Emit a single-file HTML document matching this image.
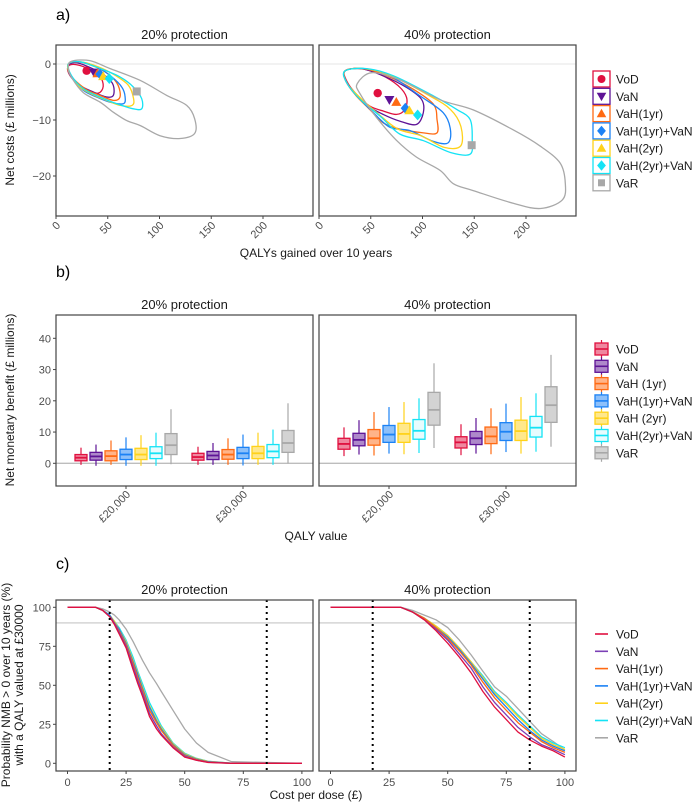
<!DOCTYPE html>
<html><head><meta charset="utf-8"><style>
body{margin:0;background:#fff;}
svg{display:block;font-family:"Liberation Sans",Arial,sans-serif;}
</style></head><body>
<svg id="fig" width="698" height="802" viewBox="0 0 698 802"></svg>
<script>
// ---------- DATA ----------
const seriesNames = ["VoD","VaN","VaH(1yr)","VaH(1yr)+VaN","VaH(2yr)","VaH(2yr)+VaN","VaR"];
const boxLegendNames = ["VoD","VaN","VaH (1yr)","VaH(1yr)+VaN","VaH (2yr)","VaH(2yr)+VaN","VaR"];
const panels = ["20% protection","40% protection"];
// panel a: mean points [QALY, cost]
const meanQ20 = [29.6,36.7,40,42.5,45.6,51.5,78];
const meanC20 = [-1.2,-1.5,-1.7,-1.8,-2.2,-2.6,-4.9];
const meanQ40 = [56.7,68,74.7,83.4,87.3,95.3,147.5];
const meanC40 = [-5.2,-6.4,-6.8,-7.9,-8.3,-9.1,-14.5];
// contours 20% : [q,c] pairs
const cont20 = [
 [[11.9,-0.4],[19.3,-0.1],[33,-1],[42.5,-2.2],[45.6,-4],[40.8,-5.2],[29.6,-4.6],[18.4,-3.1],[12.2,-1.6]],
 [[11.9,-0.2],[20.5,0.2],[36,-0.9],[49,-2.3],[55.4,-3.8],[55.4,-5.6],[49,-5.9],[36,-5],[23,-3.8],[13.5,-1.8]],
 [[11.9,0],[21.5,0.4],[38,-0.5],[52,-2],[60,-3.8],[61.8,-5.9],[55.4,-6.5],[42.5,-5.6],[28,-4.4],[14,-2]],
 [[11.9,0],[22.5,0.4],[39.5,-0.5],[53.8,-2.3],[63.5,-4.1],[66.8,-5.9],[65,-7.1],[52,-6.8],[39.3,-5.9],[26.4,-4.7],[14,-2.1]],
 [[11.9,0],[23.2,0.4],[40.9,-0.5],[57,-2],[70,-3.8],[75,-6.2],[73.4,-7.4],[62,-7.4],[49,-6.5],[36,-5.5],[23,-4.1],[13.5,-1.8]],
 [[11.9,0],[23.2,0.4],[42.5,-0.8],[61.8,-2.3],[74.7,-4.1],[82.8,-6.2],[82.8,-8],[74.7,-8],[58.7,-7.1],[42.5,-5.9],[26.4,-4.4],[15.1,-2.1]],
 [[15.1,0.5],[32.8,0.6],[52,-0.8],[81,-2.9],[107,-5.6],[126.3,-7.4],[134,-9.8],[134,-12.4],[120,-13.3],[100.5,-12.8],[81.5,-11],[68.3,-10.1],[55.4,-8.6],[42.5,-6.8],[26.4,-5.1],[15.1,-2.4],[12,-0.6]]
];
const cont40 = [
 [[25,-1.25],[39.5,-0.83],[58.9,-1.85],[76.6,-3.9],[84.6,-6],[83,-8.1],[75,-9],[62,-8.4],[49,-7.5],[36,-5.4],[27,-3.1]],
 [[25,-1.25],[41,-0.83],[62,-2.1],[84.6,-4.2],[99,-6.3],[100.8,-8.7],[94,-10.8],[78,-10.2],[62,-9],[47.5,-7.5],[34.6,-5.1],[26,-3.1]],
 [[25,-1.25],[42.5,-0.83],[65.4,-2.1],[91,-4.5],[110.6,-7.2],[114,-9.9],[114,-12.3],[101,-12.3],[78,-11.6],[62,-10.5],[49,-8.1],[36,-5.7],[27,-3.4]],
 [[25,-1.25],[44,-0.83],[68.6,-2.1],[97.6,-5.7],[120,-8.7],[127,-11.7],[124.5,-14.1],[110,-13.8],[88,-11.9],[68.6,-11.3],[52.6,-8.7],[37,-5.7],[27,-3.4]],
 [[25,-1.25],[44,-0.83],[70,-2.1],[107,-5.7],[127,-8.1],[137,-11.1],[137,-14.6],[121,-14.9],[98.5,-12.8],[76,-11.6],[56,-8.7],[38,-5.7],[27,-3.4]],
 [[25,-1.25],[46,-0.83],[72,-2.1],[110.6,-5.7],[133,-8.1],[146,-9.9],[148,-13.4],[146,-16.1],[127,-15.8],[101,-13.7],[78,-12.5],[59,-9.3],[39.6,-6.3],[27,-3.4]],
 [[37,-3.5],[50.9,-1.55],[78.3,-2.85],[117,-6.4],[149,-8.2],[188,-11.8],[214,-14.7],[233,-17.7],[238,-21.3],[235,-24.3],[214,-25.8],[188,-24.9],[149,-22.6],[130,-21.4],[117,-19],[94,-16.6],[74.7,-13.6],[55.4,-9.5],[39.6,-5.3]]
];
// panel b: box stats, order [panel][qaly value][series]
const qalyValues = ["£20,000","£30,000"];
const boxLo   = [[[-0.5,-0.8,-0.5,-0.8,-0.8,-0.8,-0.3],[-0.5,-0.5,-0.5,-0.7,-0.5,-0.5,0]],[[2.3,2.8,2.5,3.1,2.9,3.3,4.9],[2.6,3.1,2.9,3.6,3.1,3.7,5.3]]];
const boxQ1   = [[[0.8,1,0.8,1.2,1.2,1.5,2.8],[1,1.2,1.3,1.5,1.5,1.8,3.5]],[[4.5,5.6,5.8,6.7,6.7,7.7,12.2],[4.9,6,6.3,7.3,7.3,8.4,13.1]]];
const boxMed  = [[[1.8,2.2,2.3,2.8,2.8,3.2,5.8],[2,2.5,2.8,3.2,3.2,3.8,6.5]],[[6.2,7.5,8,9.2,9.4,10.4,17.1],[6.7,8,8.6,10.1,10.3,11.4,18.6]]];
const boxQ3   = [[[2.8,3.5,4,4.5,4.8,5.3,9.5],[3.2,3.8,4.4,5.1,5.4,6,10.5]],[[8,9.6,10.8,12.1,12.8,14,22.7],[8.5,10.2,11.6,13,13.8,15,24.5]]];
const boxHi   = [[[5,6,7.3,8.3,9,9.8,17.3],[5.3,6.5,8,9.2,9.8,10.8,19.2]],[[11.5,13.8,16.4,18,19.6,20.8,32],[12.5,14.5,17.6,19.1,21.2,22.4,34.7]]];
// panel c: acceptability curves
const costX20 = [0,12,15,18,20,22,25,28,30,32,35,38,40,45,50,55,60,70,100];
const prob20 = [
 [100,100,98,94,89,83,74,60,51,43,30,22,18,10,4,2,0.5,0,0],
 [100,100,98,94,90,84,75,62,53,45,32,24,19,10.5,4.5,2,0.7,0,0],
 [100,100,98,94,90,85,76,64,55,47,34,26,21,11.5,5,2.4,0.9,0,0],
 [100,100,98,95,90,86,77,65,57,48,36,27,22,12,5.5,2.7,1,0.1,0],
 [100,100,98,95,91,86,78,66,58,49,37,28,23,12.5,6,3,1.2,0.1,0],
 [100,100,98,95,91,87,79,68,59,51,39,30,24,13,6.5,3.2,1.3,0.1,0],
 [100,100,99,97,95,92,86,78,72,66,58,51,46,34,22,13,7,1,0]
];
const costX40 = [0,25,30,35,40,45,50,55,60,65,70,75,80,85,90,95,100];
const prob40 = [
 [100,100,100,97,92,85,77,68,58,46,36,28,20,15,11,8,4],
 [100,100,100,97,92,86,79,70,61,49,39,31,23,17,12,9,5.5],
 [100,100,100,97,93,87,80,72,63,52,42,34,26,20,14,10,7],
 [100,100,100,97,93,87,81,73,64,54,44,36,28,21,15,11,8],
 [100,100,100,97,93,88,82,74,65,55,45,38,30,23,16,12,9],
 [100,100,100,97,93,88,82,74,65,56,46,39,31,24,17,13,10],
 [100,100,100,98,95,92,87,79,69.5,59,49,43,35,27,19,14,8.5]
];
const ticksA_y = [0,-10,-20];
const ticksA_x = [0,50,100,150,200];
const ticksB_y = [0,10,20,30,40];
const ticksC_y = [0,25,50,75,100];
const ticksC_x = [0,25,50,75,100];
const vlinesC = [18,85];

// ---------- STYLE / GEOMETRY ----------
const colors = ["#E0103F","#5E1396","#FF6A13","#1C82F5","#FFD21A","#14E3F5","#A8A8A8"];
const lineColorsC = ["#E0103F","#7B40B5","#FF6A13","#1C82F5","#FFD21A","#14E3F5","#A8A8A8"];
const PX = [[56,313],[319,576]];
const svg = document.getElementById('fig');
const NS = "http://www.w3.org/2000/svg";
function mk(tag, attrs, parent){
  const e = document.createElementNS(NS, tag);
  for (const k in attrs) e.setAttribute(k, attrs[k]);
  (parent||svg).appendChild(e); return e;
}
function txt(s, x, y, size, anchor, fill, parent){
  const t = mk('text',{x:x,y:y,'font-size':size,'text-anchor':anchor||'middle',fill:fill||'#000'},parent);
  t.textContent = s; return t;
}
function smooth(pts){
  const n = pts.length; let d = "M"+pts[0][0].toFixed(1)+","+pts[0][1].toFixed(1);
  for (let i=0;i<n;i++){
    const p0=pts[(i-1+n)%n],p1=pts[i],p2=pts[(i+1)%n],p3=pts[(i+2)%n];
    const c1=[p1[0]+(p2[0]-p0[0])/6,p1[1]+(p2[1]-p0[1])/6];
    const c2=[p2[0]-(p3[0]-p1[0])/6,p2[1]-(p3[1]-p1[1])/6];
    d+="C"+c1.map(v=>v.toFixed(1)).join(",")+" "+c2.map(v=>v.toFixed(1)).join(",")+" "+p2[0].toFixed(1)+","+p2[1].toFixed(1);
  }
  return d+"Z";
}
function symbol(k, cx, cy, r, col, parent){
  let e;
  if(k===0) e=mk('circle',{cx:cx,cy:cy,r:r,fill:col},parent);
  else if(k===1) e=mk('polygon',{points:`${cx-r*1.2},${cy-r*0.9} ${cx+r*1.2},${cy-r*0.9} ${cx},${cy+r*1.2}`,fill:col},parent);
  else if(k===2||k===4) e=mk('polygon',{points:`${cx-r*1.2},${cy+r*0.9} ${cx+r*1.2},${cy+r*0.9} ${cx},${cy-r*1.2}`,fill:col},parent);
  else if(k===3||k===5) e=mk('polygon',{points:`${cx},${cy-r*1.3} ${cx+r*1.1},${cy} ${cx},${cy+r*1.3} ${cx-r*1.1},${cy}`,fill:col},parent);
  else e=mk('rect',{x:cx-r,y:cy-r,width:2*r,height:2*r,fill:col},parent);
  return e;
}
function frame(x0,x1,y0,y1,name){
  const r = mk('rect',{x:x0,y:y0,width:x1-x0,height:y1-y0,fill:'none',stroke:'#444','stroke-width':1.2});
  
  
}

// ---------- PANEL LABELS / STRIPS ----------
[["a)",56,20],["b)",56,277],["c)",56,569]].forEach(l=>{
  const t = txt(l[0], l[1], l[2], 16, 'start');
  
  
});
[39,309,594].forEach((yy,ri)=>{
  panels.forEach((p,pi)=>{
    const t = txt(p,(PX[pi][0]+PX[pi][1])/2,yy,13,'middle','#1a1a1a');
    
    
  });
});

// ---------- PANEL A ----------
const aY = v => 64 - 5.6*v;
const aX = (pi,q) => PX[pi][0] + 1.035*q;
const gA = mk('g',{});


[0,1].forEach(pi=>{
  const h = mk('line',{x1:PX[pi][0],x2:PX[pi][1],y1:aY(0),y2:aY(0),stroke:'#e6e6e6','stroke-width':1},gA);
  
  
  const cs = pi?cont40:cont20;
  cs.forEach((c,si)=>{
    const pts = c.map(p=>[aX(pi,p[0]),aY(p[1])]);
    const path = mk('path',{d:smooth(pts),fill:'none',stroke:colors[si],'stroke-width':1.3},gA);
    
    
  });
  const mq = pi?meanQ40:meanQ20, mc = pi?meanC40:meanC20;
  mq.forEach((q,si)=>{
    const s = symbol(si, aX(pi,q), aY(mc[si]), si===6?4:4.2, colors[si], gA);
    
    
  });
  frame(PX[pi][0],PX[pi][1],45,216,'panel-a-frame');
  ticksA_x.forEach(v=>{
    const x=aX(pi,v);
    mk('line',{x1:x,x2:x,y1:216,y2:219,stroke:'#444'});
    const t = mk('text',{x:x+5,y:226,'font-size':11,'text-anchor':'end',fill:'#4d4d4d',transform:`rotate(-45 ${x+5} 226)`});
    t.textContent = v;
    
    
  });
});
ticksA_y.forEach(v=>{
  mk('line',{x1:53,x2:56,y1:aY(v),y2:aY(v),stroke:'#444'});
  const t = txt(v<0?"\u2212"+(-v):String(v),51,aY(v)+4,11,'end','#4d4d4d');
  
  
});
{
  const t = txt("QALYs gained over 10 years",316,257,12,'middle','#1a1a1a');
  
  
  const y = mk('text',{x:14,y:130,'font-size':12,'text-anchor':'middle',fill:'#1a1a1a',transform:'rotate(-90 14 130)'});
  y.textContent = "Net costs (£ millions)";
  
  
}
seriesNames.forEach((n,si)=>{
  const cy = 79 + si*17.3;
  const g = mk('g',{});
  
  
  mk('rect',{x:593,y:cy-8,width:17,height:16,fill:'#fff',stroke:colors[si],'stroke-width':1.3},g);
  symbol(si,601.5,cy,si===6?3.5:4,colors[si],g);
  txt(n,616,cy+4.5,12,'start','#1a1a1a',g);
});

// ---------- PANEL B ----------
const bY = v => 463.3 - 3.125*v;
const catOff = [70,187];
const gB = mk('g',{});


[0,1].forEach(pi=>{
  const h = mk('line',{x1:PX[pi][0],x2:PX[pi][1],y1:bY(0),y2:bY(0),stroke:'#bdbdbd','stroke-width':1.3},gB);
  
  
  qalyValues.forEach((qv,ci)=>{
    const cx0 = PX[pi][0]+catOff[ci];
    seriesNames.forEach((n,si)=>{
      const cx = cx0 + (si-3)*15;
      const g = mk('g',{},gB);
      
      
      mk('line',{x1:cx,x2:cx,y1:bY(boxHi[pi][ci][si]),y2:bY(boxLo[pi][ci][si]),stroke:colors[si],'stroke-width':1.2},g);
      const y3=bY(boxQ3[pi][ci][si]), y1=bY(boxQ1[pi][ci][si]);
      mk('rect',{x:cx-6,y:y3,width:12,height:y1-y3,fill:'#fff',stroke:'none'},g);
      mk('rect',{x:cx-6,y:y3,width:12,height:y1-y3,fill:colors[si],'fill-opacity':si===5?0.1:0.5,stroke:colors[si],'stroke-width':1.3},g);
      const ym=bY(boxMed[pi][ci][si]);
      mk('line',{x1:cx-6,x2:cx+6,y1:ym,y2:ym,stroke:colors[si],'stroke-width':1.8},g);
    });
    mk('line',{x1:cx0,x2:cx0,y1:486,y2:489,stroke:'#444'});
    const t = mk('text',{x:cx0+5,y:495,'font-size':11,'text-anchor':'end',fill:'#4d4d4d',transform:`rotate(-45 ${cx0+5} 495)`});
    t.textContent = qv;
    
    
  });
  frame(PX[pi][0],PX[pi][1],315,486,'panel-b-frame');
});
ticksB_y.forEach(v=>{
  mk('line',{x1:53,x2:56,y1:bY(v),y2:bY(v),stroke:'#444'});
  const t = txt(String(v),51,bY(v)+4,11,'end','#4d4d4d');
  
  
});
{
  const t = txt("QALY value",316,540,12,'middle','#1a1a1a');
  
  
  const y = mk('text',{x:14,y:400,'font-size':12,'text-anchor':'middle',fill:'#1a1a1a',transform:'rotate(-90 14 400)'});
  y.textContent = "Net monetary benefit (£ millions)";
  
  
}
boxLegendNames.forEach((n,si)=>{
  const cy = 349 + si*17.3;
  const g = mk('g',{});
  
  
  mk('line',{x1:601.5,x2:601.5,y1:cy-9,y2:cy+9,stroke:colors[si],'stroke-width':1.2},g);
  mk('rect',{x:595,y:cy-6,width:13,height:12,fill:'#fff'},g);
  mk('rect',{x:595,y:cy-6,width:13,height:12,fill:colors[si],'fill-opacity':si===5?0.1:0.5,stroke:colors[si],'stroke-width':1.3},g);
  mk('line',{x1:595,x2:608,y1:cy,y2:cy,stroke:colors[si],'stroke-width':1.6},g);
  txt(n,616,cy+4.5,12,'start','#1a1a1a',g);
});

// ---------- PANEL C ----------
const cY = v => 763.3 - 1.56*v;
const cX = (pi,c) => PX[pi][0] + 11.5 + 2.344*c;
const gC = mk('g',{});


[0,1].forEach(pi=>{
  const h = mk('line',{x1:PX[pi][0],x2:PX[pi][1],y1:cY(90),y2:cY(90),stroke:'#d4d4d4','stroke-width':1.5},gC);
  
  
  const xs = pi?costX40:costX20, ps = pi?prob40:prob20;
  [6,5,4,3,2,1,0].forEach(si=>{
    const d = xs.map((x,i)=>(i?"L":"M")+cX(pi,x).toFixed(1)+","+cY(ps[si][i]).toFixed(1)).join("");
    const p = mk('path',{d:d,fill:'none',stroke:lineColorsC[si],'stroke-width':1.3,'stroke-linejoin':'round'},gC);
    
    
  });
  vlinesC.forEach(v=>{
    const l = mk('line',{x1:cX(pi,v),x2:cX(pi,v),y1:600,y2:771,stroke:'#000','stroke-width':2,'stroke-dasharray':'2,4'},gC);
    
    
  });
  frame(PX[pi][0],PX[pi][1],600,771,'panel-c-frame');
  ticksC_x.forEach(v=>{
    const x=cX(pi,v);
    mk('line',{x1:x,x2:x,y1:771,y2:774,stroke:'#444'});
    const t = txt(String(v),x,786,11,'middle','#4d4d4d');
    
    
  });
});
ticksC_y.forEach(v=>{
  mk('line',{x1:53,x2:56,y1:cY(v),y2:cY(v),stroke:'#444'});
  const t = txt(String(v),51,cY(v)+4,11,'end','#4d4d4d');
  
  
});
{
  const t = txt("Cost per dose (£)",316,799,12,'middle','#1a1a1a');
  
  
  const y1 = mk('text',{x:10,y:685,'font-size':12,'text-anchor':'middle',fill:'#1a1a1a',transform:'rotate(-90 10 685)'});
  y1.textContent = "Probability NMB > 0 over 10 years (%)";
  
  
  const y2 = mk('text',{x:23,y:685,'font-size':12,'text-anchor':'middle',fill:'#1a1a1a',transform:'rotate(-90 23 685)'});
  y2.textContent = "with a QALY valued at £30000";
  
  
}
seriesNames.forEach((n,si)=>{
  const cy = 634 + si*17.3;
  const g = mk('g',{});
  
  
  mk('line',{x1:595,x2:608,y1:cy,y2:cy,stroke:lineColorsC[si],'stroke-width':1.6},g);
  txt(n,616,cy+4.5,12,'start','#1a1a1a',g);
});
</script>
</body></html>
